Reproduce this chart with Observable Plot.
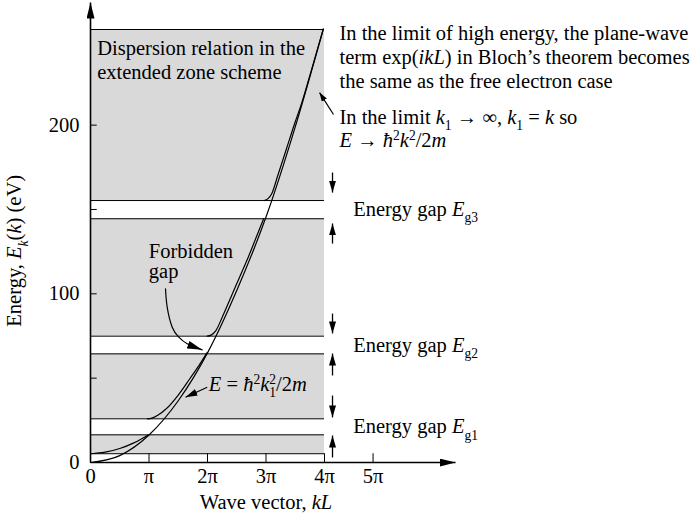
<!DOCTYPE html>
<html><head><meta charset="utf-8">
<script src="https://cdn.jsdelivr.net/npm/d3@7"></script>
<script src="https://cdn.jsdelivr.net/npm/@observablehq/plot@0.6"></script>
<style>html,body{margin:0;background:#fff}svg{display:block}</style>
</head><body><div id="chart"></div>
<script>
// ---- data (kL in units of π, energy in eV) ----
const bandLow  = [5.2, 25.9, 74.9, 155.3];
const bandHigh = [16.4, 64.4, 144.5, 256.7];
const gapNames = ["g1", "g2", "g3"];

const parabolaK = [0, 0.5, 1, 1.5, 2, 2.5, 3, 3.5, 3.98];
const parabolaE = [0, 4.1, 16.3, 36.6, 65, 102, 145.5, 199, 257];
const band1K = [0, 0.25, 0.5, 0.75, 0.98];
const band1E = [5.2, 6.2, 8.3, 11.8, 16.2];
const band2K = [0.97, 1.05, 1.15, 1.3, 1.5, 1.7, 1.85, 1.99];
const band2E = [25.9, 26.3, 28.0, 32.0, 40.0, 49.8, 57.3, 65];
const band3K = [1.995, 2.06, 2.14, 2.25, 2.4, 2.55, 2.7, 2.85, 2.96];
const band3E = [74.9, 75.5, 78.0, 86.0, 98.0, 110.0, 122.0, 135.0, 144.5];
const band4K = [2.97, 3.03, 3.1, 3.2, 3.35, 3.5, 3.6, 3.8, 3.98];
const band4E = [155.3, 156.3, 159.5, 170, 186, 202, 212, 235.4, 257];

const xTickVals = [1, 2, 3, 4, 4.83];
const xTickLabelVals = [0, 1, 2, 3, 4, 4.83];
const xTickLabels = ["0", "π", "2π", "3π", "4π", "5π"];
const yTickVals = [50, 100, 150, 200];
const yTickLabelVals = [0, 100, 200];

const gapArrowFrom = [39.7, 3.0, 88.3, 51.6, 171.9, 129.8];
const gapArrowTo   = [26.7, 16.0, 76.5, 64.6, 160.0, 141.7];

// ---- tables ----
const curves = [
  ["free", parabolaK, parabolaE], ["b1", band1K, band1E], ["b2", band2K, band2E],
  ["b3", band3K, band3E], ["b4", band4K, band4E]
].flatMap(([name, K, E]) => K.map((k, i) => ({name, k, E: E[i]})));
const bands = bandLow.map((lo, i) => ({lo, hi: bandHigh[i]}));
const gaps = gapNames.map((g, i) => ({name: g, mid: (bandHigh[i] + bandLow[i + 1]) / 2}));
const gapArrows = gapArrowFrom.map((a, i) => ({from: a, to: gapArrowTo[i]}));

const FS = 20.5;
const txt = (data, o) => Plot.text(data, {fontSize: FS, fill: "black", ...o});

const svg = Plot.plot({
  width: 698, height: 518, margin: 0,
  x: {domain: [0, 4], range: [90, 324], axis: null},
  y: {domain: [0, 256.7], range: [462, 29], axis: null},
  style: {fontFamily: "'Liberation Serif', 'Times New Roman', serif", fontSize: FS + "px", background: "white", color: "black", overflow: "visible"},
  marks: [
    Plot.rect(bands, {x1: () => 0, x2: () => 4, y1: "lo", y2: "hi", fill: "#d9d9d9"}),
    Plot.ruleY([...bandLow, ...bandHigh], {x1: () => 0, x2: () => 4, y: d => d, stroke: "black", strokeWidth: 1}),
    Plot.line(curves, {x: "k", y: "E", z: "name", curve: "monotone-x", stroke: "black", strokeWidth: 1.2}),
    // ticks
    Plot.ruleX(xTickVals, {x: d => d, y1: () => 0, y2: () => 5.2, stroke: "black", strokeWidth: 1}),
    Plot.ruleY(yTickVals, {y: d => d, x1: () => 0, x2: () => 0.115, stroke: "black", strokeWidth: 1}),
    // axes with arrows
    Plot.link([{x1: 0, y1: 0, x2: 0, y2: 272.7}, {x1: 0, y1: 0, x2: 6.24, y2: 0}],
      {x1: "x1", y1: "y1", x2: "x2", y2: "y2", stroke: "black", strokeWidth: 1.6, markerEnd: "arrow"}),
    // tick labels
    txt(xTickLabelVals, {x: d => d, y: () => -8.5, text: (d, i) => xTickLabels[i]}),
    txt(yTickLabelVals, {x: () => -0.188, y: d => d, text: d => String(d), textAnchor: "end"}),
    // axis titles
    txt([0], {x: () => 3.0, y: () => -23.5, text: () => "Wave vector, *kL*"}),
    txt([0], {x: () => -1.292, y: () => 125.5, rotate: -90, text: () => "Energy, *E*_{*k*}(*k*) (eV)"}),
    // annotations
    txt(["Dispersion relation in the", "extended zone scheme"], {x: () => 0.115, y: (d, i) => [245.2, 231.0][i], text: d => d, textAnchor: "start"}),
    txt(["In the limit of high energy, the plane-wave", "term exp(*ikL*) in Bloch’s theorem becomes", "the same as the free electron case",
         "In the limit *k*_{1} → ∞, *k*_{1} = *k* so", "*E* → *ħ*^{2}*k*^{2}/2*m*"],
        {x: () => 4.256, y: (d, i) => [254.1, 240.2, 226.2, 204.6, 190.7][i], text: d => d, textAnchor: "start"}),
    txt(gaps, {x: () => 4.491, y: "mid", text: d => `Energy gap *E*_{${d.name}}`, textAnchor: "start"}),
    txt(["Forbidden", "gap"], {x: () => 0.997, y: (d, i) => [125.4, 113.0][i], text: d => d, textAnchor: "start"}),
    txt([0], {x: () => 2.022, y: () => 46.2, text: () => "*E* = *ħ*^{2}*k*^{2}_{1}/2*m*", textAnchor: "start"}),
    // arrows
    Plot.link(gapArrows, {x1: () => 4.137, x2: () => 4.137, y1: "from", y2: "to", stroke: "black", strokeWidth: 1.3, markerEnd: "arrow"}),
    Plot.link([{a: 4.154, b: 206.3, c: 3.915, d: 219.3}, {a: 1.995, b: 44.6, c: 1.624, d: 38.7}],
      {x1: "a", y1: "b", x2: "c", y2: "d", stroke: "black", strokeWidth: 1.2, markerEnd: "arrow"}),
    Plot.line([[1.282, 103.0], [1.311, 92.1], [1.397, 80.2], [1.509, 74.3], [1.653, 70.4], [1.909, 66.8]],
      {x: d => d[0], y: d => d[1], curve: "natural", stroke: "black", strokeWidth: 1.2, markerEnd: "arrow"})
  ]
});
document.getElementById("chart").appendChild(svg);

// ---- filled arrowheads (replace the library's open heads, in mark order) ----
const root = d3.select(svg);
const defs = root.append("defs");
function mk(id, len, wid) {
  defs.append("marker").attr("id", id).attr("viewBox", `0 ${-wid / 2} ${len} ${wid}`)
    .attr("refX", len).attr("refY", 0).attr("markerWidth", len).attr("markerHeight", wid)
    .attr("markerUnits", "userSpaceOnUse").attr("orient", "auto")
    .append("path").attr("d", `M0,${-wid / 2}L${len},0L0,${wid / 2}Z`).attr("fill", "black");
}
mk("mBig", 16, 8); mk("mMid", 12, 7); mk("mCurve", 15, 8); mk("mSmall", 9, 6);
const headOrder = ["mBig", "mBig", "mMid", "mMid", "mMid", "mMid", "mMid", "mMid", "mSmall", "mMid", "mCurve"];
root.selectAll("[marker-end]").each(function (d, i) {
  this.setAttribute("marker-end", `url(#${headOrder[i] || "mMid"})`);
});

// ---- rich text (italic, sub/superscripts) ----
function parseRich(s) {
  const segs = []; let it = false, pos = "base", buf = "";
  const flush = () => { if (buf) { segs.push({t: buf, it, pos}); buf = ""; } };
  for (let i = 0; i < s.length; i++) {
    const c = s[i];
    if (c === "*") { flush(); it = !it; }
    else if ((c === "_" || c === "^") && s[i + 1] === "{") { flush(); pos = c === "_" ? "sub" : "sup"; i++; }
    else if (c === "}" && pos !== "base") { flush(); pos = "base"; }
    else buf += c;
  }
  flush(); return segs;
}
const NS = "http://www.w3.org/2000/svg";
root.selectAll("text").each(function () {
  const s = this.textContent;
  if (!/\*|_\{|\^\{/.test(s)) return;
  const fs = parseFloat(getComputedStyle(this).fontSize) || FS;
  this.textContent = "";
  let cur = 0, prevPos = "base", prevW = 0;
  for (const seg of parseRich(s)) {
    const ts = document.createElementNS(NS, "tspan");
    ts.textContent = seg.t;
    if (seg.it) ts.setAttribute("font-style", "italic");
    const target = seg.pos === "sup" ? -0.36 * fs : seg.pos === "sub" ? 0.3 * fs : 0;
    if (seg.pos !== "base") ts.setAttribute("font-size", (0.66 * fs).toFixed(2));
    if (target !== cur) { ts.setAttribute("dy", (target - cur).toFixed(2)); cur = target; }
    if (seg.pos === "sub" && prevPos === "sup") ts.setAttribute("dx", (-prevW).toFixed(2));
    this.appendChild(ts);
    prevW = ts.getComputedTextLength(); prevPos = seg.pos;
  }
});
</script>
</body></html>
